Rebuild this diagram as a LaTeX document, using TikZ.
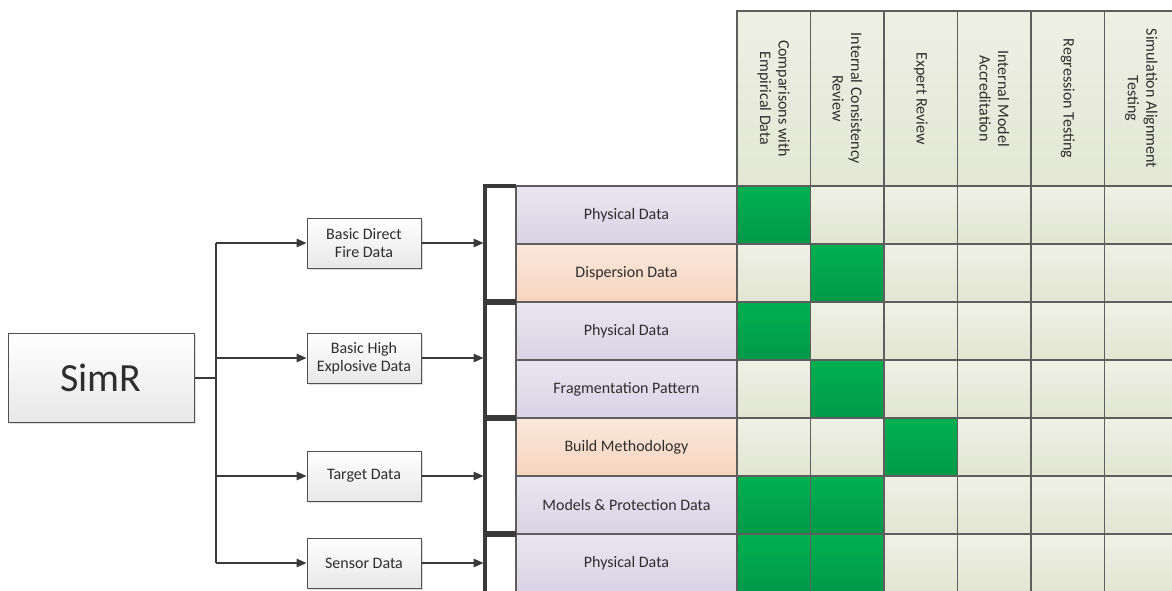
\documentclass[tikz,border=0pt]{standalone}
\usepackage{fontspec}
\setmainfont{Carlito}
\usetikzlibrary{arrows.meta,shadows}

\definecolor{wire}{HTML}{3A3A3A}
\definecolor{gridline}{HTML}{5E5E5E}
\definecolor{boxline}{HTML}{505050}
\definecolor{lilacTop}{HTML}{E9E6F1}
\definecolor{lilacBot}{HTML}{D9D3E5}
\definecolor{peachTop}{HTML}{FBE7DA}
\definecolor{peachBot}{HTML}{F6D5BF}
\definecolor{sageTop}{HTML}{EFF1E6}
\definecolor{sageBot}{HTML}{E1E5D1}
\definecolor{headL}{HTML}{E3E7D4}
\definecolor{headR}{HTML}{EEF0E4}
\definecolor{okTop}{HTML}{00B050}
\definecolor{okBot}{HTML}{00994A}

\tikzset{
  txt/.style={font=\fontsize{16}{18.5}\selectfont, text=black!82},
  procbox/.style={txt, draw=boxline, line width=1pt, top color=white, bottom color=black!9,
    align=center, inner sep=0pt, minimum width=114pt, minimum height=50pt,
    drop shadow={shadow xshift=1.5pt, shadow yshift=-1.5pt, opacity=0.25}},
  rootbox/.style={procbox, font=\fontsize{40}{44}\selectfont, minimum width=186pt, minimum height=89pt},
  cell/.style={draw=gridline, line width=1.6pt, inner sep=0pt, minimum width=73.5pt, minimum height=58pt,
    top color=sageTop, bottom color=sageBot},
  hit/.style={top color=okTop, bottom color=okBot},
  labcell/.style={txt, draw=gridline, line width=1.6pt, inner sep=0pt, minimum width=221pt, minimum height=58pt},
  lilac/.style={top color=lilacTop, bottom color=lilacBot},
  peach/.style={top color=peachTop, bottom color=peachBot},
  headcell/.style={txt, draw=gridline, line width=1.6pt, inner sep=0pt, rotate=-90,
    minimum width=175pt, minimum height=73.5pt, align=center, top color=headR, bottom color=headL},
  flow/.style={draw=wire, line width=1.5pt},
  arrow/.style={flow, -{Triangle[length=10pt,width=8.5pt]}},
  bracket/.style={draw=wire, line width=3.5pt, line cap=butt, line join=miter},
}

\begin{document}
\begin{tikzpicture}[x=1pt,y=-1pt]
\useasboundingbox (0,0) rectangle (1172,591);
\clip (0,0) rectangle (1172,591);

% column headers
\foreach \j/\t in {1/{Comparisons with\\Empirical Data},
                   2/{Internal Consistency\\Review},
                   3/{Expert Review},
                   4/{Internal Model\\Accreditation},
                   5/{Regression Testing},
                   6/{Simulation Alignment\\Testing}}
  \node[headcell] (h\j) at ({737+73.5*(\j-0.5)}, 98.5) {\t};

% grid of checks
\foreach \i in {1,...,7}
  \foreach \j in {1,...,6}
    \node[cell] (c\i\j) at ({737+73.5*(\j-0.5)}, {186+58*(\i-0.5)}) {};

\foreach \i/\j in {1/1, 2/2, 3/1, 4/2, 5/3, 6/1, 6/2, 7/1, 7/2}
  \node[cell, hit] (g\i\j) at ({737+73.5*(\j-0.5)}, {186+58*(\i-0.5)}) {};

% data item labels
\node[labcell, lilac] (l1) at (626.5, 215) {Physical Data};
\node[labcell, peach] (l2) at (626.5, 273) {Dispersion Data};
\node[labcell, lilac] (l3) at (626.5, 331) {Physical Data};
\node[labcell, lilac] (l4) at (626.5, 389) {Fragmentation Pattern};
\node[labcell, peach] (l5) at (626.5, 447) {Build Methodology};
\node[labcell, lilac] (l6) at (626.5, 505) {Models \& Protection Data};
\node[labcell, lilac] (l7) at (626.5, 563) {Physical Data};

% group brackets
\draw[bracket] (516, 186) -- (485, 186) -- (485, 301) -- (516, 301);
\draw[bracket] (516, 303) -- (485, 303) -- (485, 417) -- (516, 417);
\draw[bracket] (516, 419) -- (485, 419) -- (485, 533) -- (516, 533);
\draw[bracket] (516, 535) -- (485, 535) -- (485, 600);

% hierarchy
\node[rootbox] (root) at (101, 378) {SimR};
\node[procbox] (b1) at (364, 243) {Basic Direct\\Fire Data};
\node[procbox] (b2) at (364, 358) {Basic High\\Explosive Data};
\node[procbox] (b3) at (364, 476) {Target Data};
\node[procbox] (b4) at (364, 563) {Sensor Data};

\coordinate (trunk) at (216, 378);
\coordinate (k1) at (483.5, 243);
\coordinate (k2) at (483.5, 358);
\coordinate (k3) at (483.5, 476);
\coordinate (k4) at (483.5, 563);

\draw[flow] (root.east) -- (trunk);
\draw[flow] (trunk) -- (trunk |- b1.west);
\draw[flow] (trunk) -- (trunk |- b4.west);
\foreach \n in {1,2,3,4} {
  \draw[arrow] (trunk |- b\n.west) -- (b\n.west);
  \draw[arrow] (b\n.east) -- (k\n);
}
\end{tikzpicture}
\end{document}
